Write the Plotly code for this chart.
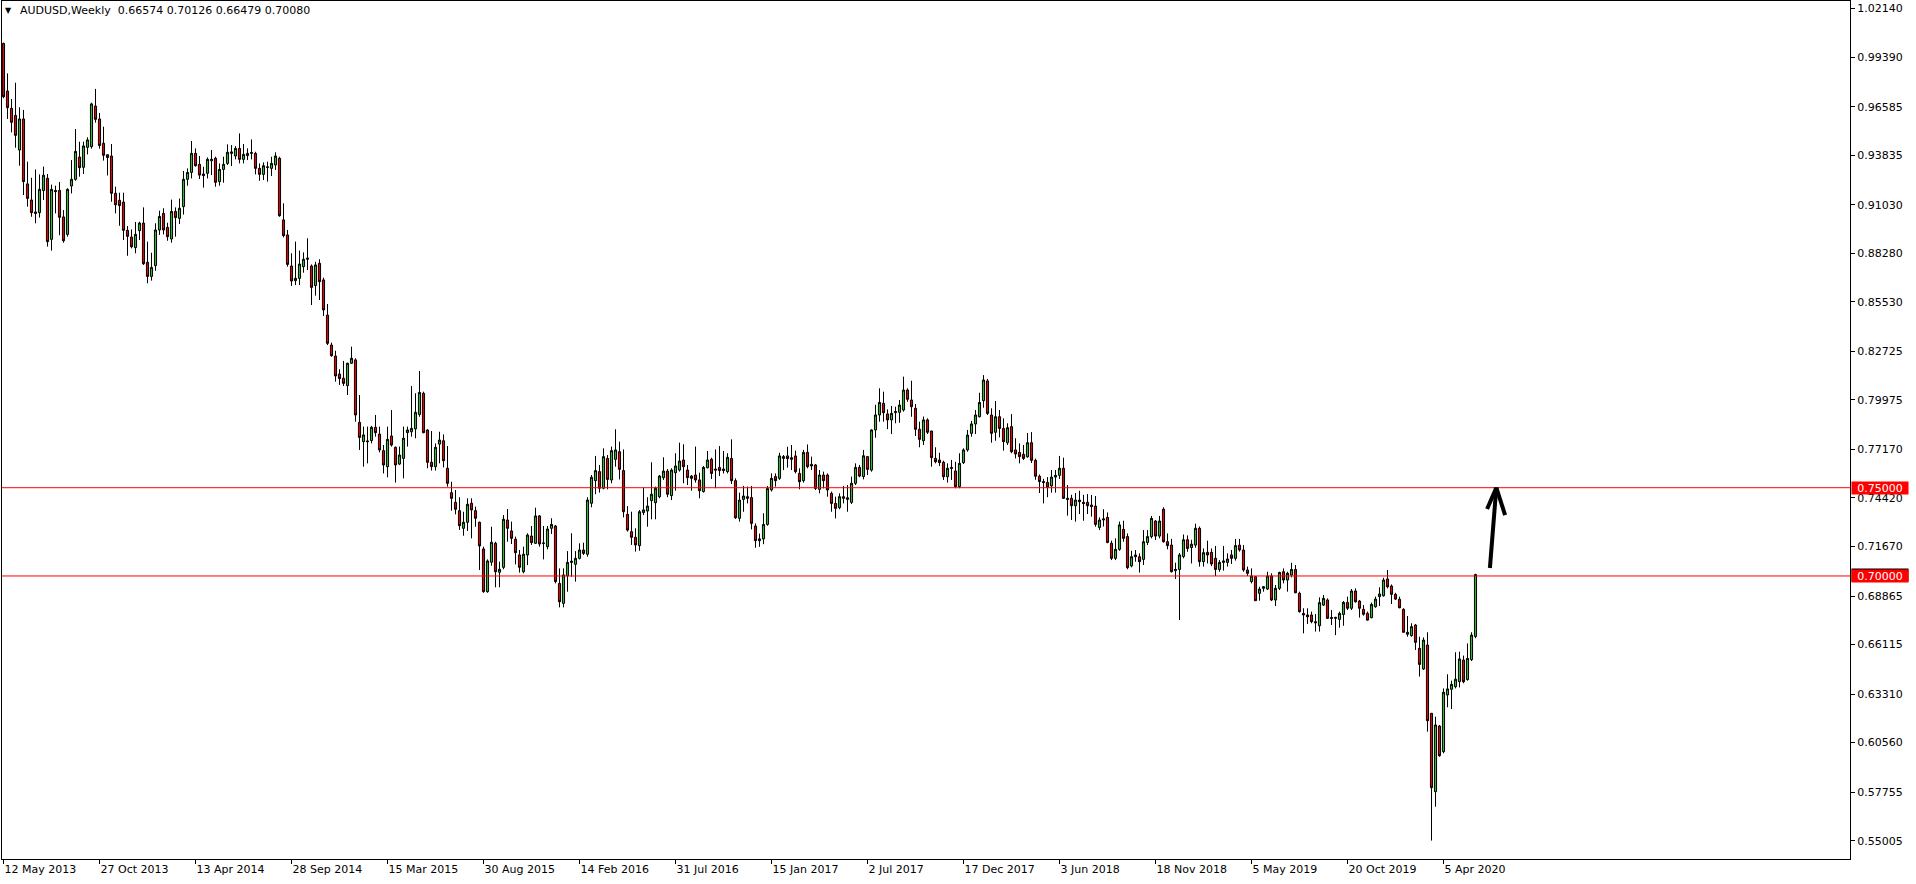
import pandas as pd
import plotly.graph_objects as go

# ---------------- data (AUDUSD weekly) ----------------
symbol_title = "AUDUSD,Weekly"
first_week = "2013-05-12"

open_ = [
    1.0017, 0.9747, 0.9649, 0.9609, 0.9413, 0.9589, 0.9221, 0.9130, 0.9062, 0.9058,  # 0
    0.9183, 0.9253, 0.8907, 0.9184, 0.9184, 0.9034, 0.8935, 0.9209, 0.9247, 0.9373,  # 10
    0.9315, 0.9428, 0.9432, 0.9662, 0.9589, 0.9451, 0.9386, 0.9379, 0.9168, 0.9128,  # 20
    0.9118, 0.8958, 0.8920, 0.8860, 0.8956, 0.8999, 0.8777, 0.8697, 0.8758, 0.8960,  # 30
    0.9054, 0.8975, 0.8909, 0.9065, 0.9026, 0.9092, 0.9247, 0.9286, 0.9394, 0.9332,  # 40
    0.9277, 0.9281, 0.9352, 0.9366, 0.9234, 0.9303, 0.9337, 0.9394, 0.9379, 0.9422,  # 50
    0.9360, 0.9381, 0.9394, 0.9394, 0.9309, 0.9275, 0.9314, 0.9309, 0.9328, 0.9366,  # 60
    0.9017, 0.8932, 0.8756, 0.8673, 0.8686, 0.8752, 0.8794, 0.8756, 0.8645, 0.8771,  # 70
    0.8677, 0.8478, 0.8308, 0.8246, 0.8144, 0.8120, 0.8078, 0.8205, 0.8224, 0.7870,  # 80
    0.7761, 0.7765, 0.7767, 0.7842, 0.7804, 0.7710, 0.7619, 0.7793, 0.7729, 0.7634,  # 90
    0.7666, 0.7812, 0.7817, 0.7833, 0.7915, 0.8035, 0.7827, 0.7644, 0.7619, 0.7747,  # 100
    0.7766, 0.7610, 0.7472, 0.7417, 0.7370, 0.7270, 0.7304, 0.7412, 0.7370, 0.7304,  # 110
    0.7153, 0.6911, 0.7078, 0.7185, 0.7021, 0.7049, 0.7317, 0.7255, 0.7208, 0.7119,  # 120
    0.7024, 0.7119, 0.7226, 0.7185, 0.7340, 0.7187, 0.7166, 0.7270, 0.7283, 0.6958,  # 130
    0.6845, 0.7000, 0.7077, 0.7066, 0.7100, 0.7147, 0.7123, 0.7412, 0.7540, 0.7591,  # 140
    0.7497, 0.7666, 0.7544, 0.7661, 0.7704, 0.7597, 0.7349, 0.7251, 0.7219, 0.7172,  # 150
    0.7359, 0.7368, 0.7427, 0.7415, 0.7449, 0.7557, 0.7594, 0.7455, 0.7585, 0.7600,  # 160
    0.7657, 0.7600, 0.7566, 0.7572, 0.7544, 0.7478, 0.7613, 0.7661, 0.7606, 0.7615,  # 170
    0.7606, 0.7591, 0.7666, 0.7540, 0.7327, 0.7434, 0.7449, 0.7444, 0.7283, 0.7200,  # 180
    0.7210, 0.7292, 0.7488, 0.7563, 0.7553, 0.7666, 0.7680, 0.7670, 0.7680, 0.7581,  # 190
    0.7540, 0.7700, 0.7632, 0.7629, 0.7491, 0.7572, 0.7572, 0.7468, 0.7411, 0.7387,  # 200
    0.7449, 0.7443, 0.7417, 0.7525, 0.7615, 0.7563, 0.7676, 0.7600, 0.7827, 0.7912,  # 210
    0.7978, 0.7918, 0.7884, 0.7925, 0.7927, 0.7940, 0.8053, 0.7997, 0.7950, 0.7831,  # 220
    0.7766, 0.7884, 0.7821, 0.7666, 0.7657, 0.7644, 0.7562, 0.7615, 0.7595, 0.7506,  # 230
    0.7642, 0.7714, 0.7808, 0.7861, 0.7902, 0.7993, 0.8105, 0.7912, 0.7814, 0.7902,  # 240
    0.7836, 0.7755, 0.7846, 0.7714, 0.7700, 0.7689, 0.7675, 0.7755, 0.7655, 0.7565,  # 250
    0.7535, 0.7530, 0.7510, 0.7560, 0.7570, 0.7610, 0.7440, 0.7440, 0.7398, 0.7430,  # 260
    0.7417, 0.7417, 0.7402, 0.7396, 0.7275, 0.7317, 0.7332, 0.7185, 0.7100, 0.7151,  # 270
    0.7264, 0.7223, 0.7057, 0.7109, 0.7109, 0.7094, 0.7190, 0.7223, 0.7311, 0.7226,  # 280
    0.7378, 0.7194, 0.7175, 0.7030, 0.7037, 0.7110, 0.7205, 0.7161, 0.7175, 0.7270,  # 290
    0.7081, 0.7134, 0.7134, 0.7100, 0.7037, 0.7077, 0.7077, 0.7119, 0.7100, 0.7175,  # 300
    0.7147, 0.7034, 0.6968, 0.6996, 0.6902, 0.6930, 0.6926, 0.7000, 0.6864, 0.6930,  # 310
    0.7024, 0.6977, 0.7005, 0.7037, 0.6902, 0.6788, 0.6779, 0.6779, 0.6741, 0.6718,  # 320
    0.6835, 0.6864, 0.6765, 0.6760, 0.6754, 0.6782, 0.6850, 0.6817, 0.6915, 0.6858,  # 330
    0.6811, 0.6788, 0.6764, 0.6826, 0.6883, 0.6888, 0.6983, 0.6943, 0.6896, 0.6868,  # 340
    0.6811, 0.6681, 0.6662, 0.6722, 0.6590, 0.6473, 0.6609, 0.6222, 0.5778, 0.6150,  # 350
    0.6005, 0.6326, 0.6358, 0.6373, 0.6401, 0.6524, 0.6413, 0.6526, 0.66574,         # 360
]
high = [
    1.0021, 0.9847, 0.9702, 0.9794, 0.9655, 0.9640, 0.9347, 0.9256, 0.9303, 0.9275,
    0.9319, 0.9277, 0.9217, 0.9211, 0.9232, 0.9073, 0.9196, 0.9356, 0.9532, 0.9460,
    0.9460, 0.9485, 0.9681, 0.9759, 0.9623, 0.9545, 0.9388, 0.9447, 0.9205, 0.9171,
    0.9171, 0.8982, 0.8963, 0.9005, 0.9007, 0.9088, 0.8894, 0.8831, 0.8998, 0.9069,
    0.9083, 0.9001, 0.9132, 0.9088, 0.9138, 0.9294, 0.9309, 0.9464, 0.9422, 0.9379,
    0.9318, 0.9371, 0.9413, 0.9375, 0.9337, 0.9375, 0.9445, 0.9441, 0.9435, 0.9507,
    0.9447, 0.9422, 0.9473, 0.9403, 0.9337, 0.9343, 0.9347, 0.9375, 0.9400, 0.9375,
    0.9111, 0.8960, 0.8828, 0.8894, 0.8843, 0.8833, 0.8913, 0.8765, 0.8780, 0.8794,
    0.8690, 0.8541, 0.8322, 0.8276, 0.8171, 0.8218, 0.8208, 0.8299, 0.8233, 0.8025,
    0.7846, 0.7846, 0.7850, 0.7912, 0.7846, 0.7742, 0.7846, 0.7940, 0.7733, 0.7733,
    0.7846, 0.7846, 0.8076, 0.8035, 0.8161, 0.8044, 0.7831, 0.7821, 0.7751, 0.7817,
    0.7802, 0.7736, 0.7534, 0.7487, 0.7446, 0.7364, 0.7440, 0.7440, 0.7393, 0.7308,
    0.7166, 0.7094, 0.7279, 0.7194, 0.7081, 0.7345, 0.7379, 0.7308, 0.7223, 0.7147,
    0.7166, 0.7242, 0.7283, 0.7387, 0.7345, 0.7283, 0.7283, 0.7327, 0.7289, 0.7043,
    0.7043, 0.7141, 0.7242, 0.7141, 0.7185, 0.7189, 0.7446, 0.7572, 0.7680, 0.7629,
    0.7723, 0.7685, 0.7733, 0.7831, 0.7761, 0.7717, 0.7396, 0.7364, 0.7270, 0.7374,
    0.7502, 0.7446, 0.7644, 0.7506, 0.7572, 0.7672, 0.7606, 0.7610, 0.7695, 0.7755,
    0.7746, 0.7629, 0.7572, 0.7733, 0.7585, 0.7623, 0.7708, 0.7670, 0.7717, 0.7736,
    0.7708, 0.7695, 0.7774, 0.7553, 0.7472, 0.7510, 0.7506, 0.7510, 0.7298, 0.7240,
    0.7355, 0.7510, 0.7581, 0.7581, 0.7698, 0.7685, 0.7732, 0.7742, 0.7710, 0.7610,
    0.7714, 0.7745, 0.7676, 0.7634, 0.7600, 0.7591, 0.7581, 0.7478, 0.7449, 0.7468,
    0.7510, 0.7515, 0.7563, 0.7638, 0.7629, 0.7714, 0.7680, 0.7831, 0.7970, 0.8063,
    0.8044, 0.7944, 0.7963, 0.7959, 0.7997, 0.8129, 0.8063, 0.8106, 0.7974, 0.7874,
    0.7903, 0.7893, 0.7823, 0.7729, 0.7698, 0.7653, 0.7638, 0.7657, 0.7647, 0.7695,
    0.7723, 0.7827, 0.7878, 0.7940, 0.8038, 0.8138, 0.8116, 0.7950, 0.7991, 0.7940,
    0.7893, 0.7865, 0.7917, 0.7780, 0.7751, 0.7742, 0.7810, 0.7815, 0.7665, 0.7575,
    0.7550, 0.7560, 0.7600, 0.7600, 0.7680, 0.7670, 0.7515, 0.7460, 0.7470, 0.7483,
    0.7460, 0.7464, 0.7459, 0.7453, 0.7332, 0.7378, 0.7360, 0.7200, 0.7213, 0.7308,
    0.7313, 0.7241, 0.7143, 0.7147, 0.7128, 0.7260, 0.7260, 0.7340, 0.7317, 0.7340,
    0.7389, 0.7241, 0.7210, 0.7075, 0.7130, 0.7235, 0.7230, 0.7205, 0.7296, 0.7280,
    0.7156, 0.7200, 0.7156, 0.7170, 0.7090, 0.7170, 0.7128, 0.7147, 0.7210, 0.7210,
    0.7175, 0.7053, 0.7043, 0.7000, 0.6939, 0.6943, 0.7024, 0.7015, 0.6949, 0.7024,
    0.7043, 0.7024, 0.7075, 0.7062, 0.6911, 0.6817, 0.6817, 0.6798, 0.6784, 0.6879,
    0.6892, 0.6873, 0.6807, 0.6769, 0.6798, 0.6858, 0.6883, 0.6926, 0.6930, 0.6864,
    0.6835, 0.6798, 0.6849, 0.6883, 0.6936, 0.6990, 0.7034, 0.6952, 0.6905, 0.6883,
    0.6817, 0.6773, 0.6732, 0.6728, 0.6656, 0.6652, 0.6681, 0.6222, 0.6203, 0.6156,
    0.6363, 0.6443, 0.6407, 0.6568, 0.6571, 0.6549, 0.6618, 0.6681, 0.70126,
]
low = [
    0.9706, 0.9589, 0.9513, 0.9426, 0.9324, 0.9158, 0.9092, 0.9035, 0.8998, 0.9030,
    0.9130, 0.8866, 0.8843, 0.9054, 0.8930, 0.8888, 0.8922, 0.9167, 0.9239, 0.9262,
    0.9277, 0.9388, 0.9421, 0.9568, 0.9421, 0.9353, 0.9269, 0.9120, 0.9054, 0.8984,
    0.8903, 0.8814, 0.8856, 0.8828, 0.8903, 0.8762, 0.8658, 0.8673, 0.8729, 0.8932,
    0.8935, 0.8899, 0.8888, 0.8922, 0.8994, 0.9047, 0.9211, 0.9252, 0.9319, 0.9249,
    0.9200, 0.9252, 0.9271, 0.9205, 0.9211, 0.9228, 0.9328, 0.9322, 0.9360, 0.9337,
    0.9337, 0.9356, 0.9360, 0.9275, 0.9239, 0.9243, 0.9234, 0.9266, 0.9300, 0.9035,
    0.8918, 0.8752, 0.8643, 0.8648, 0.8648, 0.8718, 0.8733, 0.8535, 0.8588, 0.8563,
    0.8473, 0.8308, 0.8242, 0.8101, 0.8082, 0.8076, 0.8025, 0.8201, 0.7874, 0.7714,
    0.7619, 0.7638, 0.7751, 0.7789, 0.7700, 0.7581, 0.7559, 0.7733, 0.7529, 0.7629,
    0.7553, 0.7733, 0.7789, 0.7780, 0.7902, 0.7808, 0.7610, 0.7597, 0.7597, 0.7638,
    0.7615, 0.7506, 0.7370, 0.7349, 0.7261, 0.7228, 0.7255, 0.7213, 0.7279, 0.7034,
    0.6905, 0.6905, 0.7058, 0.6936, 0.6936, 0.7038, 0.7194, 0.7181, 0.7066, 0.7019,
    0.7015, 0.7062, 0.7176, 0.7181, 0.7166, 0.7094, 0.7151, 0.7238, 0.6958, 0.6822,
    0.6822, 0.6911, 0.6996, 0.6968, 0.7094, 0.7119, 0.7109, 0.7389, 0.7463, 0.7472,
    0.7491, 0.7491, 0.7525, 0.7619, 0.7547, 0.7332, 0.7251, 0.7176, 0.7138, 0.7143,
    0.7345, 0.7279, 0.7321, 0.7321, 0.7440, 0.7544, 0.7446, 0.7430, 0.7483, 0.7591,
    0.7525, 0.7515, 0.7483, 0.7529, 0.7440, 0.7472, 0.7610, 0.7549, 0.7497, 0.7566,
    0.7581, 0.7581, 0.7521, 0.7323, 0.7308, 0.7364, 0.7411, 0.7264, 0.7160, 0.7165,
    0.7180, 0.7285, 0.7478, 0.7506, 0.7544, 0.7600, 0.7614, 0.7600, 0.7581, 0.7491,
    0.7529, 0.7610, 0.7600, 0.7487, 0.7468, 0.7496, 0.7449, 0.7364, 0.7326, 0.7378,
    0.7411, 0.7364, 0.7408, 0.7515, 0.7559, 0.7547, 0.7572, 0.7591, 0.7783, 0.7874,
    0.7874, 0.7832, 0.7804, 0.7865, 0.7868, 0.7931, 0.7987, 0.7902, 0.7793, 0.7729,
    0.7742, 0.7804, 0.7619, 0.7638, 0.7623, 0.7544, 0.7529, 0.7544, 0.7497, 0.7497,
    0.7634, 0.7704, 0.7789, 0.7804, 0.7898, 0.7953, 0.7912, 0.7755, 0.7766, 0.7785,
    0.7710, 0.7742, 0.7695, 0.7666, 0.7638, 0.7657, 0.7670, 0.7640, 0.7545, 0.7470,
    0.7411, 0.7446, 0.7472, 0.7472, 0.7550, 0.7436, 0.7342, 0.7317, 0.7308, 0.7351,
    0.7313, 0.7351, 0.7336, 0.7279, 0.7260, 0.7280, 0.7185, 0.7090, 0.7090, 0.7143,
    0.7194, 0.7038, 0.7049, 0.7081, 0.7019, 0.7062, 0.7175, 0.7213, 0.7204, 0.7213,
    0.7189, 0.7151, 0.7020, 0.6983, 0.6750, 0.7100, 0.7137, 0.7071, 0.7160, 0.7053,
    0.7053, 0.7071, 0.7056, 0.7000, 0.7024, 0.7030, 0.7053, 0.7068, 0.7087, 0.7138,
    0.7024, 0.7000, 0.6958, 0.6860, 0.6860, 0.6911, 0.6920, 0.6858, 0.6830, 0.6920,
    0.6958, 0.6911, 0.6992, 0.6902, 0.6792, 0.6675, 0.6728, 0.6732, 0.6685, 0.6685,
    0.6830, 0.6756, 0.6722, 0.6665, 0.6707, 0.6718, 0.6807, 0.6807, 0.6849, 0.6764,
    0.6775, 0.6747, 0.6760, 0.6820, 0.6830, 0.6883, 0.6930, 0.6841, 0.6864, 0.6817,
    0.6679, 0.6656, 0.6656, 0.6581, 0.6430, 0.6467, 0.6118, 0.5501, 0.5693, 0.5976,
    0.5995, 0.6256, 0.6246, 0.6363, 0.6369, 0.6392, 0.6407, 0.6518, 0.66479,
]
close = [
    0.9715, 0.9653, 0.9570, 0.9496, 0.9589, 0.9234, 0.9139, 0.9058, 0.9054, 0.9190,
    0.9270, 0.8894, 0.9190, 0.9177, 0.9032, 0.8899, 0.9190, 0.9247, 0.9405, 0.9313,
    0.9436, 0.9470, 0.9674, 0.9587, 0.9438, 0.9383, 0.9371, 0.9168, 0.9103, 0.9098,
    0.8958, 0.8924, 0.8865, 0.8935, 0.8999, 0.8769, 0.8697, 0.8748, 0.8960, 0.9037,
    0.8960, 0.8922, 0.9065, 0.9030, 0.9083, 0.9247, 0.9286, 0.9394, 0.9324, 0.9271,
    0.9268, 0.9360, 0.9360, 0.9230, 0.9303, 0.9332, 0.9400, 0.9402, 0.9422, 0.9360,
    0.9388, 0.9394, 0.9398, 0.9309, 0.9275, 0.9324, 0.9317, 0.9337, 0.9379, 0.9041,
    0.8928, 0.8765, 0.8671, 0.8686, 0.8767, 0.8794, 0.8800, 0.8635, 0.8762, 0.8667,
    0.8507, 0.8318, 0.8248, 0.8133, 0.8118, 0.8091, 0.8205, 0.8233, 0.7912, 0.7785,
    0.7799, 0.7761, 0.7842, 0.7812, 0.7714, 0.7629, 0.7774, 0.7742, 0.7629, 0.7685,
    0.7780, 0.7827, 0.7836, 0.7927, 0.8040, 0.7812, 0.7644, 0.7619, 0.7729, 0.7770,
    0.7653, 0.7525, 0.7440, 0.7378, 0.7285, 0.7304, 0.7406, 0.7374, 0.7327, 0.7170,
    0.6911, 0.7085, 0.7191, 0.7024, 0.7038, 0.7321, 0.7270, 0.7213, 0.7132, 0.7049,
    0.7123, 0.7232, 0.7189, 0.7340, 0.7181, 0.7185, 0.7266, 0.7292, 0.6968, 0.6854,
    0.7006, 0.7077, 0.7083, 0.7100, 0.7147, 0.7128, 0.7430, 0.7559, 0.7597, 0.7497,
    0.7676, 0.7547, 0.7710, 0.7714, 0.7604, 0.7364, 0.7260, 0.7219, 0.7176, 0.7364,
    0.7374, 0.7396, 0.7463, 0.7497, 0.7566, 0.7594, 0.7463, 0.7600, 0.7623, 0.7651,
    0.7619, 0.7557, 0.7553, 0.7544, 0.7483, 0.7615, 0.7657, 0.7581, 0.7600, 0.7597,
    0.7597, 0.7672, 0.7540, 0.7330, 0.7430, 0.7453, 0.7440, 0.7298, 0.7200, 0.7210,
    0.7292, 0.7496, 0.7553, 0.7540, 0.7680, 0.7676, 0.7665, 0.7661, 0.7591, 0.7534,
    0.7700, 0.7619, 0.7623, 0.7496, 0.7572, 0.7540, 0.7487, 0.7411, 0.7383, 0.7449,
    0.7440, 0.7434, 0.7525, 0.7615, 0.7566, 0.7681, 0.7604, 0.7827, 0.7912, 0.7983,
    0.7925, 0.7884, 0.7921, 0.7931, 0.7968, 0.8053, 0.8001, 0.7959, 0.7831, 0.7774,
    0.7884, 0.7814, 0.7670, 0.7647, 0.7642, 0.7562, 0.7610, 0.7610, 0.7506, 0.7638,
    0.7714, 0.7798, 0.7861, 0.7912, 0.7983, 0.8110, 0.7921, 0.7808, 0.7902, 0.7836,
    0.7761, 0.7840, 0.7704, 0.7691, 0.7676, 0.7666, 0.7755, 0.7655, 0.7565, 0.7535,
    0.7530, 0.7502, 0.7560, 0.7570, 0.7610, 0.7440, 0.7434, 0.7398, 0.7430, 0.7421,
    0.7411, 0.7398, 0.7393, 0.7292, 0.7317, 0.7323, 0.7190, 0.7100, 0.7151, 0.7289,
    0.7213, 0.7047, 0.7109, 0.7119, 0.7081, 0.7194, 0.7223, 0.7326, 0.7226, 0.7311,
    0.7194, 0.7172, 0.7024, 0.7037, 0.7119, 0.7205, 0.7156, 0.7180, 0.7270, 0.7081,
    0.7132, 0.7119, 0.7068, 0.7037, 0.7077, 0.7085, 0.7096, 0.7100, 0.7172, 0.7147,
    0.7034, 0.7015, 0.7000, 0.6860, 0.6926, 0.6939, 0.7000, 0.6864, 0.6930, 0.7020,
    0.6977, 0.7015, 0.7037, 0.6905, 0.6798, 0.6779, 0.6769, 0.6741, 0.6735, 0.6849,
    0.6873, 0.6760, 0.6760, 0.6765, 0.6788, 0.6850, 0.6817, 0.6915, 0.6854, 0.6817,
    0.6783, 0.6750, 0.6839, 0.6869, 0.6898, 0.6977, 0.6939, 0.6896, 0.6869, 0.6820,
    0.6681, 0.6670, 0.6713, 0.6624, 0.6499, 0.6637, 0.6180, 0.5801, 0.6156, 0.5982,
    0.6341, 0.6360, 0.6386, 0.6415, 0.6530, 0.6401, 0.6533, 0.6665, 0.70080,
]

price_ticks = [1.02140, 0.99390, 0.96585, 0.93835, 0.91030, 0.88280, 0.85530, 0.82725,
               0.79975, 0.77170, 0.74420, 0.71670, 0.68865, 0.66115, 0.63310, 0.60560,
               0.57755, 0.55005]
date_labels = ["12 May 2013", "27 Oct 2013", "13 Apr 2014", "28 Sep 2014", "15 Mar 2015",
               "30 Aug 2015", "14 Feb 2016", "31 Jul 2016", "15 Jan 2017", "2 Jul 2017",
               "17 Dec 2017", "3 Jun 2018", "18 Nov 2018", "5 May 2019", "20 Oct 2019",
               "5 Apr 2020"]
level_lines = [0.75000, 0.70000]
bid_price = 0.70080

# ---------------- layout constants ----------------
W, H = 1916, 884
ML, MR, MT, MB = 2, 66, 1, 25
FONT = "DejaVu Sans"
GREEN = "#2db82d"
RED = "#e60000"

dates = pd.date_range(first_week, periods=len(close), freq="7D")
d0 = dates[0]
week = pd.Timedelta(days=7)
x_range = [d0 - 0.375 * week, d0 + 461.625 * week]
y_range = [0.53967, 1.02571]

fig = go.Figure()
fig.add_trace(go.Candlestick(
    x=dates, open=open_, high=high, low=low, close=close,
    increasing=dict(line=dict(color="black", width=1), fillcolor=GREEN),
    decreasing=dict(line=dict(color="black", width=1), fillcolor=RED),
    whiskerwidth=0, hoverinfo="x+y", showlegend=False,
))

# horizontal levels
for lv in level_lines:
    fig.add_shape(type="line", xref="paper", x0=0, x1=1, yref="y", y0=lv, y1=lv,
                  line=dict(color="#ff0000", width=1), layer="above")

# hand-drawn arrow (anchored in time/price like the terminal object)
arrow_tail = (371.6, 0.7045)
arrow_tip = (373.2, 0.7500)
arrow_wings = [(370.9, 0.7379), (375.4, 0.7345)]


def wk(i):
    return d0 + i * week


segs = [(arrow_tail, arrow_tip)] + [(arrow_tip, w) for w in arrow_wings]
for a, b in segs:
    fig.add_shape(type="line", xref="x", yref="y", x0=wk(a[0]), y0=a[1], x1=wk(b[0]), y1=b[1],
                  line=dict(color="black", width=4), layer="above")

# price labels on the axis
fig.add_annotation(xref="paper", x=1, xanchor="left", xshift=1, yref="y", y=bid_price,
                   text="%.5f" % bid_price, showarrow=False, bgcolor="black",
                   font=dict(family=FONT, size=11, color="white"), width=56, height=12,
                   borderpad=0)
for lv in level_lines:
    fig.add_annotation(xref="paper", x=1, xanchor="left", xshift=1, yref="y", y=lv,
                       text="%.5f" % lv, showarrow=False, bgcolor="#ff0000",
                       font=dict(family=FONT, size=11, color="white"), width=56, height=12,
                       borderpad=0)

# header
fig.add_annotation(xref="paper", x=0, xanchor="left", xshift=1, yref="paper", y=1,
                   yanchor="top", yshift=-3, text="\u25bc", showarrow=False,
                   font=dict(family=FONT, size=8, color="black"))
header = (symbol_title + "\u00a0\u00a0" + " ".join(
    "%.5f" % v for v in (open_[-1], high[-1], low[-1], close[-1])))
fig.add_annotation(xref="paper", x=0, xanchor="left", xshift=16, yref="paper", y=1,
                   yanchor="top", yshift=-1, text=header, showarrow=False,
                   font=dict(family=FONT, size=11, color="black"))

fig.update_layout(
    width=W, height=H, margin=dict(l=ML, r=MR, t=MT, b=MB),
    paper_bgcolor="white", plot_bgcolor="white", showlegend=False,
    boxgap=0.25, hovermode=False,
    xaxis=dict(type="date", range=x_range, rangeslider=dict(visible=False),
               tickvals=pd.to_datetime(date_labels, format="%d %b %Y"), ticktext=date_labels,
               ticks="outside", ticklen=4, tickcolor="black", ticklabelposition="outside right",
               showline=True, linecolor="black", linewidth=1, mirror=True,
               showgrid=False, zeroline=False,
               tickfont=dict(family=FONT, size=11, color="black")),
    yaxis=dict(side="right", range=y_range, tickvals=price_ticks,
               ticktext=["%.5f" % v for v in price_ticks],
               ticks="outside", ticklen=4, tickcolor="black",
               showline=True, linecolor="black", linewidth=1, mirror=True,
               showgrid=False, zeroline=False,
               tickfont=dict(family=FONT, size=11, color="black")),
)

fig.write_html("out.html", config={"displayModeBar": False},
               post_script="document.body.style.margin='0';document.body.style.overflow='hidden';")
